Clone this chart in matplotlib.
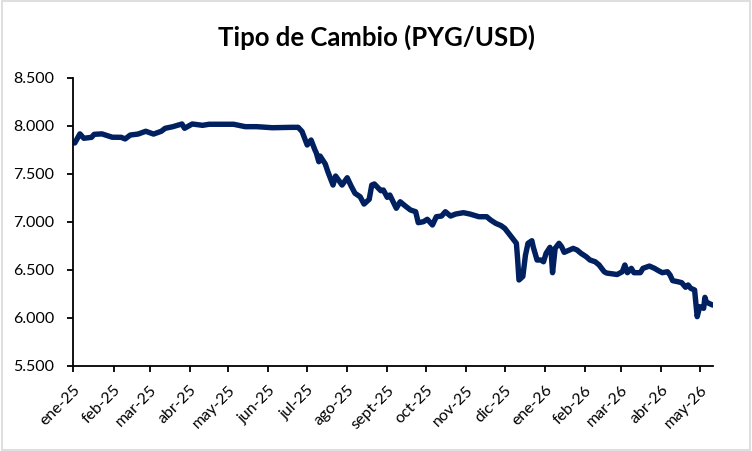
import pandas as pd
import matplotlib.pyplot as plt
import matplotlib.dates as mdates
from matplotlib.ticker import FuncFormatter, MultipleLocator

plt.rcParams["font.family"] = ["Lato", "DejaVu Sans"]

# --- Data ---
dates = [
    "2025-01-02", "2025-01-06", "2025-01-09", "2025-01-15", "2025-01-17", "2025-01-23",
    "2025-01-31", "2025-02-07", "2025-02-10", "2025-02-14", "2025-02-20", "2025-02-26",
    "2025-03-04", "2025-03-10", "2025-03-13", "2025-03-19", "2025-03-26", "2025-03-28",
    "2025-04-03", "2025-04-11", "2025-04-16", "2025-05-05", "2025-05-14", "2025-05-23",
    "2025-06-04", "2025-06-19", "2025-06-24", "2025-06-27", "2025-07-01", "2025-07-04",
    "2025-07-07", "2025-07-08", "2025-07-10", "2025-07-11", "2025-07-15", "2025-07-17",
    "2025-07-21", "2025-07-23", "2025-07-28", "2025-08-01", "2025-08-04", "2025-08-07",
    "2025-08-11", "2025-08-14", "2025-08-18", "2025-08-20", "2025-08-22", "2025-08-27",
    "2025-08-29", "2025-09-01", "2025-09-03", "2025-09-08", "2025-09-11", "2025-09-15",
    "2025-09-19", "2025-09-23", "2025-09-25", "2025-09-29", "2025-10-02", "2025-10-06",
    "2025-10-09", "2025-10-13", "2025-10-16", "2025-10-20", "2025-10-24", "2025-10-30",
    "2025-11-04", "2025-11-11", "2025-11-17", "2025-11-20", "2025-11-24", "2025-11-28",
    "2025-12-01", "2025-12-04", "2025-12-08", "2025-12-10", "2025-12-11", "2025-12-12",
    "2025-12-15", "2025-12-17", "2025-12-19", "2025-12-22", "2025-12-23", "2025-12-26",
    "2025-12-29", "2025-12-31", "2026-01-02", "2026-01-05", "2026-01-06", "2026-01-07",
    "2026-01-08", "2026-01-09", "2026-01-12", "2026-01-14", "2026-01-16", "2026-01-20",
    "2026-01-23", "2026-01-26", "2026-01-29", "2026-02-02", "2026-02-05", "2026-02-09",
    "2026-02-12", "2026-02-16", "2026-02-18", "2026-02-23", "2026-02-26", "2026-03-02",
    "2026-03-04", "2026-03-06", "2026-03-09", "2026-03-11", "2026-03-16", "2026-03-18",
    "2026-03-23", "2026-03-27", "2026-03-30", "2026-04-02", "2026-04-06", "2026-04-08",
    "2026-04-10", "2026-04-14", "2026-04-17", "2026-04-20", "2026-04-22", "2026-04-24",
    "2026-04-27", "2026-04-28", "2026-04-29", "2026-05-01", "2026-05-04", "2026-05-05",
    "2026-05-06", "2026-05-08", "2026-05-11",
]
pyg_usd = [
    7820, 7915, 7869, 7879, 7910, 7915,
    7880, 7879, 7862, 7903, 7913, 7942,
    7913, 7942, 7973, 7990, 8018, 7973,
    8018, 8004, 8015, 8015, 7990, 7990,
    7979, 7983, 7983, 7940, 7799, 7851,
    7747, 7719, 7625, 7684, 7601, 7521,
    7382, 7476, 7382, 7458, 7372, 7296,
    7260, 7184, 7233, 7382, 7393, 7323,
    7330, 7254, 7278, 7140, 7208, 7163,
    7122, 7104, 6990, 7000, 7025, 6966,
    7052, 7059, 7104, 7059, 7080, 7094,
    7080, 7052, 7052, 7018, 6983, 6960,
    6931, 6879, 6809, 6775, 6601, 6393,
    6430, 6650, 6775, 6802, 6740, 6601,
    6601, 6583, 6671, 6733, 6671, 6469,
    6601, 6722, 6775, 6740, 6681, 6705,
    6722, 6705, 6671, 6636, 6601, 6583,
    6550, 6479, 6465, 6455, 6450, 6479,
    6549, 6469, 6514, 6469, 6469, 6514,
    6538, 6514, 6490, 6469, 6479, 6445,
    6386, 6375, 6365, 6317, 6341, 6306,
    6289, 6150, 6011, 6115, 6098, 6212,
    6167, 6150, 6132,
]
month_names = ["ene", "feb", "mar", "abr", "may", "jun", "jul", "ago",
               "sept", "oct", "nov", "dic"]

df = pd.DataFrame({"fecha": pd.to_datetime(dates), "tc": pyg_usd})

# --- Chart ---
fig = plt.figure(figsize=(7.52, 4.51), dpi=100)
ax = fig.add_axes([0.0977, 0.1891, 0.850, 0.6386])

ax.plot(df["fecha"], df["tc"], color="#002060", linewidth=3.9,
        solid_joinstyle="round", solid_capstyle="round")

ax.set_xlim(pd.Timestamp("2025-01-01"), df["fecha"].iloc[-1])
ax.set_ylim(5500, 8500)
ax.yaxis.set_major_locator(MultipleLocator(500))
ax.yaxis.set_major_formatter(FuncFormatter(lambda v, p: f"{v:,.0f}".replace(",", ".")))

ax.xaxis.set_major_locator(mdates.MonthLocator())
ax.xaxis.set_major_formatter(FuncFormatter(
    lambda v, p: f"{month_names[mdates.num2date(v).month - 1]}-{mdates.num2date(v).year % 100:02d}"))
plt.setp(ax.get_xticklabels(), rotation=45, ha="right", rotation_mode="anchor")

for s in ["top", "right"]:
    ax.spines[s].set_visible(False)
ax.spines["left"].set_linewidth(1.3)
ax.spines["bottom"].set_linewidth(1.3)
ax.tick_params(axis="both", direction="out", length=4.5, width=1.3, labelsize=11.5, colors="black")
ax.tick_params(axis="y", pad=9.5)
ax.tick_params(axis="x", pad=8)

fig.text(0.5, 0.918, "Tipo de Cambio (PYG/USD)", ha="center", va="center",
         fontsize=18.5, fontweight="bold")

# light gray frame around the figure
fig.patches.append(plt.Rectangle((0.002, 0.003), 0.996, 0.994, transform=fig.transFigure,
                                 fill=False, edgecolor="#d9d9d9", linewidth=1.2))

fig.savefig("out.png", dpi=100)
